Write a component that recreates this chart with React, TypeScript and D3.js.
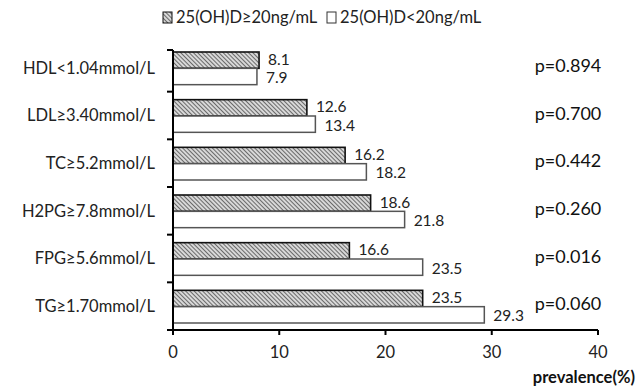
import { useMemo } from "react";
import * as d3 from "d3";

const categories = [
  "HDL<1.04mmol/L",
  "LDL≥3.40mmol/L",
  "TC≥5.2mmol/L",
  "H2PG≥7.8mmol/L",
  "FPG≥5.6mmol/L",
  "TG≥1.70mmol/L",
];
const highVitD = [8.1, 12.6, 16.2, 18.6, 16.6, 23.5];
const lowVitD = [7.9, 13.4, 18.2, 21.8, 23.5, 29.3];
const pValues = ["p=0.894", "p=0.700", "p=0.442", "p=0.260", "p=0.016", "p=0.060"];
const seriesNames = ["25(OH)D≥20ng/mL", "25(OH)D<20ng/mL"];
const xTicks = [0, 10, 20, 30, 40];

const W = 639;
const H = 386;
const FONT = "Lato, 'Open Sans', sans-serif";

const App = () => {
  const x = useMemo(() => d3.scaleLinear().domain([0, 40]).range([173, 598]), []);
  const y = useMemo(
    () => d3.scaleBand().domain(categories).range([44, 330]).paddingInner(0).paddingOuter(0),
    []
  );
  const inner = useMemo(
    () => d3.scaleBand().domain(["hi", "lo"]).range([8, y.bandwidth() - 7]).padding(0),
    [y]
  );

  return (
    <div style={{ position: "fixed", left: 0, top: 0 }}>
      <svg width={W} height={H} style={{ display: "block", background: "#fff" }} fontFamily={FONT}>
        <defs>
          <pattern id="hatch" patternUnits="userSpaceOnUse" width={3} height={3} patternTransform="rotate(-45)">
            <rect width={3} height={3} fill="#d8d8d8" />
            <line x1={0} y1={0} x2={0} y2={3} stroke="#3a3a3a" strokeWidth={1.4} />
          </pattern>
        </defs>

        {/* legend */}
        <rect x={163} y={12} width={9} height={11} fill="url(#hatch)" stroke="#111" strokeWidth={1} />
        <text x={176} y={23} fontSize={16.5} fill="#222">{seriesNames[0]}</text>
        <rect x={327} y={12} width={9} height={11} fill="#fff" stroke="#333" strokeWidth={1} />
        <text x={340} y={23} fontSize={16.5} fill="#222">{seriesNames[1]}</text>

        {categories.map((c, i) => {
          const y0 = y(c) ?? 0;
          const yh = y0 + (inner("hi") ?? 0);
          const yl = y0 + (inner("lo") ?? 0);
          const bh = inner.bandwidth();
          return (
            <g key={c}>
              <rect x={x(0)} y={yh} width={x(highVitD[i]) - x(0)} height={bh}
                fill="url(#hatch)" stroke="#111" strokeWidth={1.6} />
              <rect x={x(0)} y={yl} width={x(lowVitD[i]) - x(0)} height={bh}
                fill="#fff" stroke="#555" strokeWidth={1.5} />
              <text x={x(highVitD[i]) + 9} y={yh + bh / 2 - 1} dy="0.35em" fontSize={15.5} fill="#222">
                {highVitD[i]}
              </text>
              <text x={x(lowVitD[i]) + 9} y={yl + bh / 2 + 1} dy="0.35em" fontSize={15.5} fill="#222">
                {lowVitD[i]}
              </text>
              <text x={155} y={y0 + y.bandwidth() / 2} dy="0.35em" textAnchor="end" fontSize={16.5} fill="#222">
                {c}
              </text>
              <text x={568} y={y0 + y.bandwidth() / 2 - 2} dy="0.35em" textAnchor="middle" fontSize={18} fill="#111">
                {pValues[i]}
              </text>
            </g>
          );
        })}

        {/* y axis */}
        <line x1={x(0)} x2={x(0)} y1={y.range()[0] + 6} y2={y.range()[1]} stroke="#000" strokeWidth={2} />
        {categories.map((c) => (
          <line key={c} x1={x(0) - 6} x2={x(0)} y1={(y(c) ?? 0) + y.bandwidth()} y2={(y(c) ?? 0) + y.bandwidth()}
            stroke="#000" strokeWidth={2} />
        ))}
        <line x1={x(0) - 6} x2={x(0)} y1={y.range()[0] + 6} y2={y.range()[0] + 6} stroke="#000" strokeWidth={2} />

        {/* x axis */}
        <line x1={x(0) - 6} x2={x(40)} y1={y.range()[1]} y2={y.range()[1]} stroke="#000" strokeWidth={2} />
        {xTicks.map((t) => (
          <g key={t}>
            <line x1={x(t)} x2={x(t)} y1={y.range()[1]} y2={y.range()[1] + 5} stroke="#000" strokeWidth={2} />
            <text x={x(t)} y={352} dy="0.35em" textAnchor="middle" fontSize={16.5} fill="#222">{t}</text>
          </g>
        ))}
        <text x={635} y={377} dy="0.35em" textAnchor="end" fontSize={16.5} fontWeight="bold" fill="#111">
          prevalence(%)
        </text>
      </svg>
    </div>
  );
};

export default App;
